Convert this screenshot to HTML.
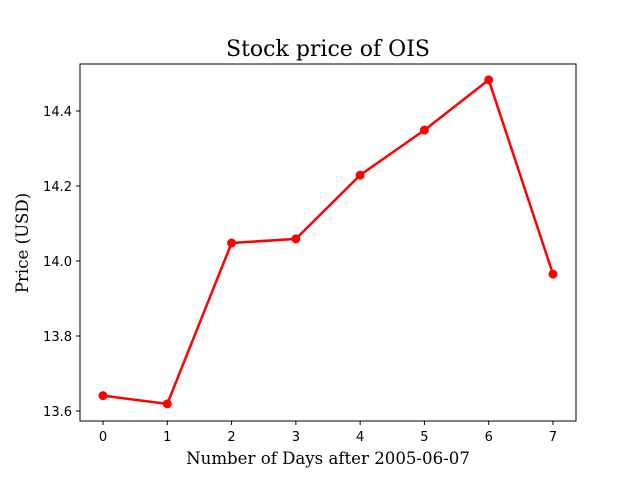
<!DOCTYPE html>
<html><head><meta charset="utf-8"><style>
body{margin:0;background:#fff}
svg{display:block}
text{font-family:"DejaVu Sans","Liberation Sans",sans-serif}
.serif{font-family:"DejaVu Serif","Liberation Serif",serif}
</style></head><body>
<svg id="chart" width="640" height="480">
<rect x="0" y="0" width="640" height="480" fill="#fff"/>
<text class="serif" x="328" y="56" font-size="22" text-anchor="middle">Stock price of OIS</text>
<text class="serif" x="328" y="464" font-size="16.6" text-anchor="middle">Number of Days after 2005-06-07</text>
<text class="serif" x="28" y="243" font-size="16.6" text-anchor="middle" transform="rotate(-90 28 243)">Price (USD)</text>
<g id="ticks"></g>
<g id="series"></g>
<rect x="80" y="64" width="496" height="357" fill="none" stroke="#000" stroke-width="1"/>
</svg>
<script>
const days = [0,1,2,3,4,5,6,7];
const prices = [13.641,13.619,14.048,14.059,14.229,14.349,14.483,13.965];
const yTicks = [13.6,13.8,14.0,14.2,14.4];
const xTicks = [0,1,2,3,4,5,6,7];
const NS='http://www.w3.org/2000/svg';
const xS = v => 103 + v*(553-103)/7;
const yS = v => 411 - (v-13.6)*375;
const tg=document.getElementById('ticks');
function mk(tag,attrs,parent){const e=document.createElementNS(NS,tag);for(const k in attrs)e.setAttribute(k,attrs[k]);parent.appendChild(e);return e;}
xTicks.forEach(t=>{
  const l=mk('line',{x1:xS(t),x2:xS(t),y1:421,y2:425,stroke:'#000'},tg);
  
  
  const tx=mk('text',{x:xS(t),y:441,'font-size':13,'text-anchor':'middle'},tg);
  tx.textContent=t;
  
  
});
yTicks.forEach(t=>{
  const l=mk('line',{x1:76,x2:80,y1:yS(t),y2:yS(t),stroke:'#000'},tg);
  
  
  const tx=mk('text',{x:72,y:yS(t)+5,'font-size':13,'text-anchor':'end'},tg);
  tx.textContent=t.toFixed(1);
  
  
});
const sg=document.getElementById('series');
const pl=mk('polyline',{points:days.map((d,i)=>xS(d)+','+yS(prices[i])).join(' '),fill:'none',stroke:'#ff0000','stroke-width':2.5,'stroke-linejoin':'round'},sg);


days.forEach((d,i)=>{
  const c=mk('circle',{cx:xS(d),cy:yS(prices[i]),r:4.5,fill:'#ff0000'},sg);
  
  
});
</script>
</body></html>
